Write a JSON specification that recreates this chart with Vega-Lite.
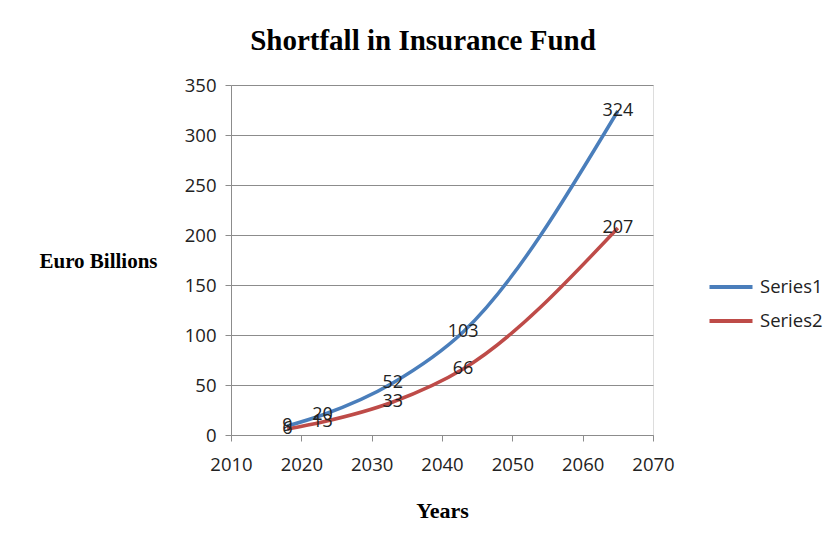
{
  "$schema": "https://vega.github.io/schema/vega-lite/v6.json",
  "width": 422,
  "height": 350,
  "autosize": {"type": "none"},
  "padding": {"left": 231, "top": 85, "right": 173, "bottom": 107},
  "background": "white",
  "title": {
    "text": "Shortfall in Insurance Fund",
    "font": "Liberation Serif",
    "fontSize": 29,
    "fontWeight": "bold",
    "color": "#000000",
    "anchor": "middle",
    "dx": -19,
    "offset": 20
  },
  "data": {
    "values": [
      {"year": 2018, "value": 9, "series": "Series1"},
      {"year": 2023, "value": 20, "series": "Series1"},
      {"year": 2033, "value": 52, "series": "Series1"},
      {"year": 2043, "value": 103, "series": "Series1"},
      {"year": 2065, "value": 324, "series": "Series1"},
      {"year": 2018, "value": 6, "series": "Series2"},
      {"year": 2023, "value": 13, "series": "Series2"},
      {"year": 2033, "value": 33, "series": "Series2"},
      {"year": 2043, "value": 66, "series": "Series2"},
      {"year": 2065, "value": 207, "series": "Series2"}
    ]
  },
  "encoding": {
    "x": {
      "field": "year",
      "type": "quantitative",
      "scale": {"domain": [2010, 2070], "nice": false, "zero": false},
      "axis": {
        "values": [2010, 2020, 2030, 2040, 2050, 2060, 2070],
        "format": "d",
        "grid": false,
        "labelFlush": false,
        "title": "Years",
        "titleFont": "Liberation Serif",
        "titleFontSize": 22,
        "titleFontWeight": "bold",
        "titleColor": "#000000",
        "titleX": 211,
        "titleY": 75,
        "titleBaseline": "middle",
        "titleAlign": "center",
        "labelFont": "Open Sans",
        "labelFontSize": 18.5,
        "labelColor": "#222222",
        "labelPadding": 14,
        "domainColor": "#8c8c8c",
        "tickColor": "#8c8c8c",
        "tickSize": 6
      }
    },
    "y": {
      "field": "value",
      "type": "quantitative",
      "scale": {"domain": [0, 350], "nice": false},
      "axis": {
        "values": [0, 50, 100, 150, 200, 250, 300, 350],
        "grid": true,
        "labelFlush": false,
        "gridColor": "#8c8c8c",
        "gridWidth": 1,
        "title": "Euro Billions",
        "titleFont": "Liberation Serif",
        "titleFontSize": 21,
        "titleFontWeight": "bold",
        "titleColor": "#000000",
        "titleAngle": 0,
        "titleX": -133,
        "titleY": 176,
        "titleAlign": "center",
        "titleBaseline": "middle",
        "labelFont": "Open Sans",
        "labelFontSize": 18.5,
        "labelColor": "#222222",
        "labelPadding": 9,
        "domainColor": "#8c8c8c",
        "tickColor": "#8c8c8c",
        "tickSize": 6
      }
    },
    "color": {
      "field": "series",
      "type": "nominal",
      "scale": {"domain": ["Series1", "Series2"], "range": ["#4A7EBB", "#BE4B48"]},
      "legend": {
        "title": null,
        "orient": "none",
        "legendX": 476,
        "legendY": 178,
        "symbolType": "stroke",
        "symbolStrokeWidth": 4,
        "symbolSize": 1850,
        "labelFont": "Open Sans",
        "labelFontSize": 18.5,
        "labelColor": "#222222",
        "labelOffset": 5,
        "rowPadding": -1
      }
    }
  },
  "layer": [
    {
      "mark": {"type": "line", "interpolate": "monotone", "strokeWidth": 3.5}
    },
    {
      "mark": {"type": "text", "font": "Open Sans", "fontSize": 18, "color": "#222222", "align": "center", "baseline": "middle"},
      "encoding": {
        "text": {"field": "value", "type": "quantitative"},
        "color": {"value": "#222222"}
      }
    }
  ]
}
